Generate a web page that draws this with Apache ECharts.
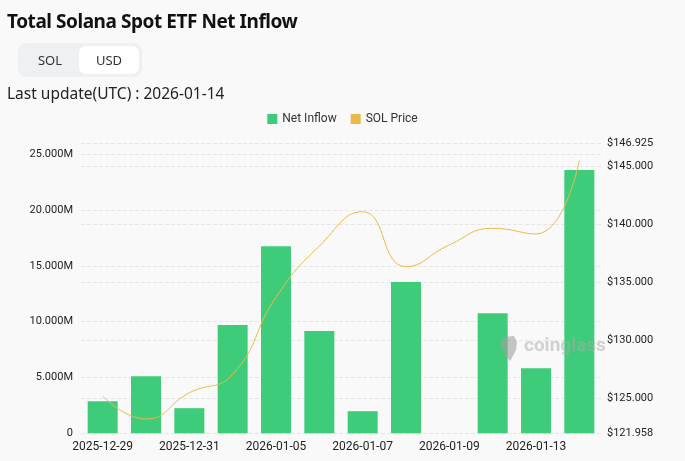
<!DOCTYPE html>
<html>
<head>
<meta charset="utf-8">
<script src="https://cdn.jsdelivr.net/npm/echarts@6/dist/echarts.min.js"></script>
<style>
  html, body { margin:0; padding:0; background:#f9f9f9; width:685px; height:461px; overflow:hidden; font-family: "Noto Sans", Roboto, sans-serif; }
  #title { position:absolute; left:7px; top:8px; font-size:19px; font-weight:700; color:#111; letter-spacing:-0.45px; }
  #toggle { position:absolute; left:18px; top:43px; width:124px; height:34px; background:#eef0f3; border-radius:8px; }
  #toggle .b { position:absolute; top:3px; height:28px; line-height:28px; text-align:center; font-size:13px; color:#333; border-radius:7px; }
  #toggle .sol { left:3px; width:58px; }
  #toggle .usd { left:61px; width:60px; background:#fff; }
  #upd { position:absolute; left:7px; top:82px; font-size:15.5px; color:#222; }
  #chart { position:absolute; left:0; top:0; width:685px; height:461px; }
</style>
</head>
<body>
<div id="chart"></div>
<div id="title">Total Solana Spot ETF Net Inflow</div>
<div id="toggle"><div class="b sol">SOL</div><div class="b usd">USD</div></div>
<div id="upd">Last update(UTC) : 2026-01-14</div>
<script>
const categories = ["2025-12-29","2025-12-30","2025-12-31","2026-01-02","2026-01-05","2026-01-06","2026-01-07","2026-01-08","2026-01-09","2026-01-12","2026-01-13","2026-01-14"];
const netInflow = [2880000, 5100000, 2250000, 9700000, 16750000, 9150000, 1980000, 13550000, 0, 10750000, 5820000, 23570000];
const solPrice = [125.17, 123.19, 125.45, 127.05, 133.7, 138.1, 141.06, 136.32, 138.2, 139.63, 139.14, 145.47];

const chart = echarts.init(document.getElementById('chart'));
const green = '#3ecc7b', yellow = '#ebb94a';
const maxInflow = Math.max(...netInflow);
const minP = Math.min(...solPrice), maxP = Math.max(...solPrice);
chart.setOption({
  backgroundColor: 'transparent',
  animation: false,
  textStyle: { fontFamily: 'Roboto, "Noto Sans", sans-serif' },
  legend: {
    top: 108, left: 'center', itemWidth: 10, itemHeight: 10, itemGap: 14,
    textStyle: { fontSize: 12, color: '#333' },
    data: [{ name: 'Net Inflow', icon: 'rect' }, { name: 'SOL Price', icon: 'rect' }]
  },
  grid: { left: 81, right: 84, top: 143.7, bottom: 27.7, containLabel: false },
  graphic: [{
    type: 'text', left: 524, top: 337, z: 100,
    style: { text: 'coinglass', fontSize: 19, fontWeight: 'bold', fill: 'rgba(170,170,170,0.5)', fontFamily: 'Roboto, sans-serif' }
  }, {
    type: 'polygon', z: 100,
    shape: { points: [[503,337],[514,336],[517,342],[516,350],[513,356],[510,361],[506,356],[502,349],[500,342]] },
    style: { fill: 'rgba(160,160,160,0.6)' }
  }],
  xAxis: {
    type: 'category', data: categories,
    axisLine: { show: false }, axisTick: { show: false },
    axisLabel: { interval: 1, color: '#222', fontSize: 12, margin: 8 }
  },
  yAxis: [{
    type: 'value', min: 0, max: maxInflow * 1.1, interval: 5000000,
    axisLabel: { color: '#222', fontSize: 11, margin: 8, showMaxLabel: false,
      formatter: v => v === 0 ? '0' : (v / 1e6).toFixed(3) + 'M' },
    splitLine: { lineStyle: { type: 'dashed', color: '#e6e6e6' } }
  }, {
    type: 'value', position: 'right', min: +(minP * 0.99).toFixed(3), max: +(maxP * 1.01).toFixed(3), splitNumber: 5,
    axisLabel: { color: '#222', fontSize: 11, margin: 6, showMinLabel: true, showMaxLabel: true,
      formatter: v => '$' + v.toFixed(3) },
    splitLine: { lineStyle: { type: 'dashed', color: '#e6e6e6' } }
  }],
  series: [{
    name: 'Net Inflow', type: 'bar', data: netInflow, barWidth: 30,
    itemStyle: { color: green }, z: 1
  }, {
    name: 'SOL Price', type: 'line', yAxisIndex: 1, data: solPrice, smooth: true,
    showSymbol: false, symbol: 'none', lineStyle: { color: yellow, width: 1 }, itemStyle: { color: yellow }, z: 3
  }]
});
</script>
</body>
</html>
